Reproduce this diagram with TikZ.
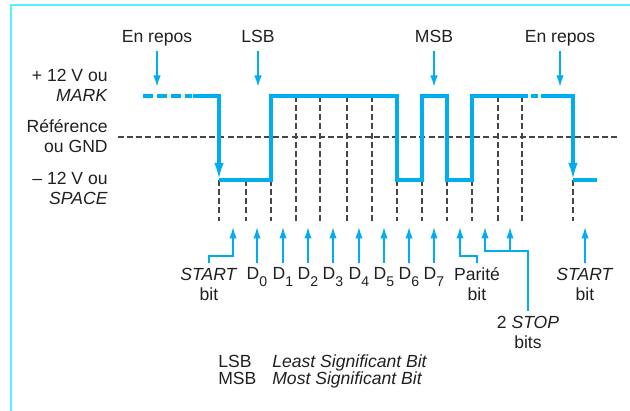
\documentclass[tikz,border=0pt]{standalone}
\usepackage{fontspec}
\setmainfont{Liberation Sans}
\usetikzlibrary{arrows.meta}
\definecolor{wavecol}{RGB}{0,174,239}
\definecolor{framecol}{RGB}{80,245,245}
\definecolor{gridcol}{RGB}{70,70,70}
\definecolor{inkcol}{RGB}{35,31,32}
\newcommand{\bitno}[1]{\raisebox{-0.4em}{\fontsize{8}{8}\selectfont #1}}

\begin{document}
\begin{tikzpicture}[x=0.02cm, y=-0.02cm,
    every node/.style={font=\fontsize{10}{11.5}\selectfont, text=inkcol},
    sig/.style={wavecol, line width=1.8pt},
    sigdrop/.style={sig, -{Latex[length=3.4mm, width=1.9mm]}},
    ptr/.style={wavecol, line width=0.95pt, -{Latex[length=2.3mm, width=1.5mm]}},
    guide/.style={gridcol, line width=0.75pt, dash pattern=on 3.4pt off 1.8pt},
    side/.style={anchor=base east, inner sep=0pt},
    toplbl/.style={anchor=base, inner sep=2pt, text depth=2.1pt},
    lbl/.style={anchor=north, inner sep=2.5pt, align=center},
    key/.style={anchor=base west, inner sep=0pt}]
    \useasboundingbox (0,0) rectangle (630,411);
    \draw[framecol, line width=1.2pt] (11,411) -- (11,5) -- (630,5);

    \node[side] (plus) at (108,82) {+ 12 V ou};
    \node[side] (mark) at (108,102) {\textit{MARK}};
    \node[side] (ref) at (108,133) {Référence};
    \node[side] (gnd) at (108,153) {ou GND};
    \node[side] (minus) at (108,185) {\textendash{} 12 V ou};
    \node[side] (space) at (108,205) {\textit{SPACE}};

    \node[toplbl] (repos1) at (157,43) {En repos};
    \node[toplbl] (lsb) at (258,43) {LSB};
    \node[toplbl] (msb) at (434,43) {MSB};
    \node[toplbl] (repos2) at (560,43) {En repos};
    \coordinate (r1) at (157,87);
    \coordinate (l1) at (258,87);
    \coordinate (m1) at (434,87);
    \coordinate (r2) at (560,87);
    \draw[ptr] (repos1) -- (r1);
    \draw[ptr] (lsb) -- (l1);
    \draw[ptr] (msb) -- (m1);
    \draw[ptr] (repos2) -- (r2);

    \draw[guide] (118,137) -- (620,137);
    \draw[guide] (219,180) -- (219,221) (246,180) -- (246,221) (271,180) -- (271,221)
        (296,96) -- (296,221) (320,96) -- (320,221) (347,96) -- (347,221)
        (372,96) -- (372,221) (397,180) -- (397,221) (422,180) -- (422,221)
        (447,180) -- (447,221) (472,180) -- (472,221) (498,96) -- (498,221)
        (522,96) -- (522,221) (573,180) -- (573,221);

    \draw[sig, dash pattern=on 5.7pt off 2.3pt] (143,96) -- (192,96);
    \draw[sigdrop] (193,96) -- (219,96) -- (219,180);
    \draw[sig] (219,180) -- (271,180) -- (271,96) -- (397,96) -- (397,180)
        -- (422,180) -- (422,96) -- (447,96) -- (447,180) -- (472,180)
        -- (472,96) -- (528,96);
    \draw[sig] (531,96) -- (538,96);
    \draw[sigdrop] (541,96) -- (573,96) -- (573,180);
    \draw[sig] (573,180) -- (597,180);

    \node[lbl] (start) at (209,263) {\textit{START}\\bit};
    \node[lbl] (d0) at (257,263) {D\bitno{0}};
    \node[lbl] (d1) at (283,263) {D\bitno{1}};
    \node[lbl] (d2) at (308,263) {D\bitno{2}};
    \node[lbl] (d3) at (333,263) {D\bitno{3}};
    \node[lbl] (d4) at (359,263) {D\bitno{4}};
    \node[lbl] (d5) at (384,263) {D\bitno{5}};
    \node[lbl] (d6) at (409,263) {D\bitno{6}};
    \node[lbl] (d7) at (434,263) {D\bitno{7}};
    \node[lbl] (par) at (477,263) {Parité\\bit};
    \node[lbl] (stop) at (528,311) {2 \textit{STOP}\\bits};
    \node[lbl] (start2) at (585,263) {\textit{START}\\bit};

    \coordinate (s0) at (233,227);
    \coordinate (a0) at (257,227);
    \coordinate (a1) at (283,227);
    \coordinate (a2) at (308,227);
    \coordinate (a3) at (333,227);
    \coordinate (a4) at (359,227);
    \coordinate (a5) at (384,227);
    \coordinate (a6) at (409,227);
    \coordinate (a7) at (434,227);
    \coordinate (pa) at (460,227);
    \coordinate (sb1) at (485,227);
    \coordinate (sb2) at (510,227);
    \coordinate (s2) at (585,227);
    \coordinate (join) at (528,251);

    \draw[ptr] (start.north) -- ++(0,-7) -| (s0);
    \draw[ptr] (d0) -- (a0);
    \draw[ptr] (d1) -- (a1);
    \draw[ptr] (d2) -- (a2);
    \draw[ptr] (d3) -- (a3);
    \draw[ptr] (d4) -- (a4);
    \draw[ptr] (d5) -- (a5);
    \draw[ptr] (d6) -- (a6);
    \draw[ptr] (d7) -- (a7);
    \draw[ptr] (par.north) -- ++(0,-7) -| (pa);
    \draw[ptr] (stop) -- (join) -| (sb1);
    \draw[ptr] (join -| sb2) -- (sb2);
    \draw[ptr] (start2) -- (s2);

    \node[key] (lsbkey) at (218,368) {LSB};
    \node[key] (lsbtext) at (272,368) {\textit{Least Significant Bit}};
    \node[key] (msbkey) at (218,385) {MSB};
    \node[key] (msbtext) at (272,385) {\textit{Most Significant Bit}};
\end{tikzpicture}
\end{document}
